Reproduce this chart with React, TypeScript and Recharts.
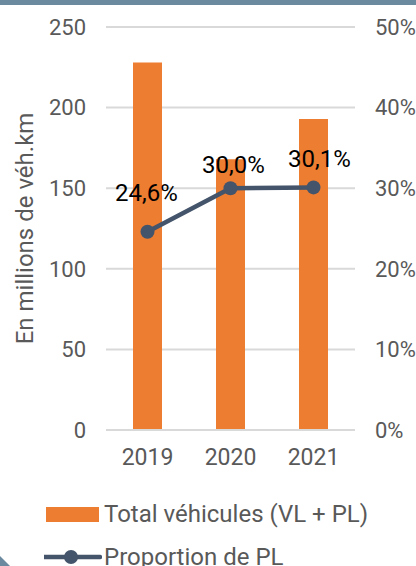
import React from 'react';
import {
  ComposedChart,
  Bar,
  Line,
  XAxis,
  YAxis,
  CartesianGrid,
  LabelList,
} from 'recharts';

// Values
const years = ['2019', '2020', '2021'];
const totalVehicules = [228, 168, 193]; // millions de véh.km
const proportionPL = [24.6, 30.0, 30.1]; // %
const leftTicks = [0, 50, 100, 150, 200, 250];
const rightTicks = [0, 10, 20, 30, 40, 50];

const ORANGE = '#ED7D31';
const SLATE = '#44546A';
const GREY_TEXT = '#595959';
const GRID = '#D9D9D9';
const BAND = '#6B8A9F';
const FONT = 'Roboto, "Noto Sans", sans-serif';

const data = years.map((year, i) => ({
  year,
  total: totalVehicules[i],
  pl: proportionPL[i],
}));

// small manual nudges, like the hand-placed labels in the original
const labelNudge = [
  { dx: -1, dy: -37 },
  { dx: 3, dy: -22 },
  { dx: 6, dy: -27 },
];

const PctLabel = (props: any) => {
  const { x, y, value, index } = props;
  const n = labelNudge[index] || { dx: 0, dy: -25 };
  return (
    <text
      x={x + n.dx}
      y={y + n.dy}
      textAnchor="middle"
      dominantBaseline="middle"
      fill="#000"
      style={{ fontSize: 24, fontFamily: FONT }}
    >
      {value.toFixed(1).replace('.', ',')}%
    </text>
  );
};

const AxisTitle = (props: any) => {
  const { viewBox } = props;
  const cx = viewBox.x + 27;
  const cy = viewBox.y + viewBox.height / 2;
  return (
    <text
      x={cx}
      y={cy}
      transform={`rotate(-90, ${cx}, ${cy})`}
      textAnchor="middle"
      dominantBaseline="middle"
      fill={GREY_TEXT}
      style={{ fontSize: 24, fontFamily: FONT }}
    >
      En millions de véh.km
    </text>
  );
};

const tickStyle = { fill: GREY_TEXT, fontSize: 22, fontFamily: FONT };

export default function App() {
  return (
    <div
      style={{
        position: 'absolute',
        left: 0,
        top: 0,
        width: 416,
        height: 566,
        background: '#fff',
        overflow: 'hidden',
        fontFamily: FONT,
      }}
    >
      <div style={{ position: 'absolute', left: 0, top: 0, width: 416, height: 5, background: BAND }} />
      <ComposedChart
        width={416}
        height={566}
        data={data}
        margin={{ top: 27, right: 0, bottom: 106, left: 0 }}
        style={{ position: 'absolute', left: 0, top: 0 }}
      >
        <CartesianGrid vertical={false} stroke={GRID} strokeWidth={2} yAxisId="left" />
        <XAxis
          dataKey="year"
          axisLine={{ stroke: GRID, strokeWidth: 2 }}
          tickLine={false}
          tick={{ ...tickStyle, fontSize: 23 }}
          tickMargin={13}
          height={30}
        />
        <YAxis
          yAxisId="left"
          domain={[0, 250]}
          ticks={leftTicks}
          axisLine={false}
          tickLine={false}
          tick={tickStyle}
          tickMargin={14}
          width={106}
          label={{ content: AxisTitle }}
        />
        <YAxis
          yAxisId="right"
          orientation="right"
          domain={[0, 50]}
          ticks={rightTicks}
          tickFormatter={(v: number) => `${v}%`}
          axisLine={false}
          tickLine={false}
          tick={tickStyle}
          tickMargin={14}
          width={61}
        />
        <Bar
          yAxisId="left"
          dataKey="total"
          fill={ORANGE}
          barSize={29}
          isAnimationActive={false}
        />
        <Line
          yAxisId="right"
          dataKey="pl"
          stroke={SLATE}
          strokeWidth={4.5}
          dot={{ r: 7, fill: SLATE, stroke: SLATE, strokeWidth: 0 }}
          activeDot={false}
          isAnimationActive={false}
        >
          <LabelList dataKey="pl" content={PctLabel} />
        </Line>
      </ComposedChart>

      {/* legend */}
      <div style={{ position: 'absolute', left: 46, top: 500, color: GREY_TEXT, fontSize: 24, lineHeight: '28px' }}>
        <div style={{ display: 'flex', alignItems: 'center', height: 28 }}>
          <span style={{ display: 'inline-block', width: 53, height: 15, background: ORANGE, marginRight: 5 }} />
          Total véhicules (VL + PL)
        </div>
        <div style={{ display: 'flex', alignItems: 'center', height: 28, marginTop: 15, marginLeft: -2 }}>
          <svg width={58} height={16} style={{ marginRight: 2 }}>
            <line x1={0} y1={8} x2={56} y2={8} stroke={SLATE} strokeWidth={4.5} strokeLinecap="round" />
            <circle cx={27} cy={8} r={7} fill={SLATE} />
          </svg>
          Proportion de PL
        </div>
      </div>

      {/* decorative corner */}
      <svg width={14} height={14} style={{ position: 'absolute', left: 0, top: 552 }}>
        <polygon points="0,4 0,14 10,14" fill={BAND} />
      </svg>
    </div>
  );
}
